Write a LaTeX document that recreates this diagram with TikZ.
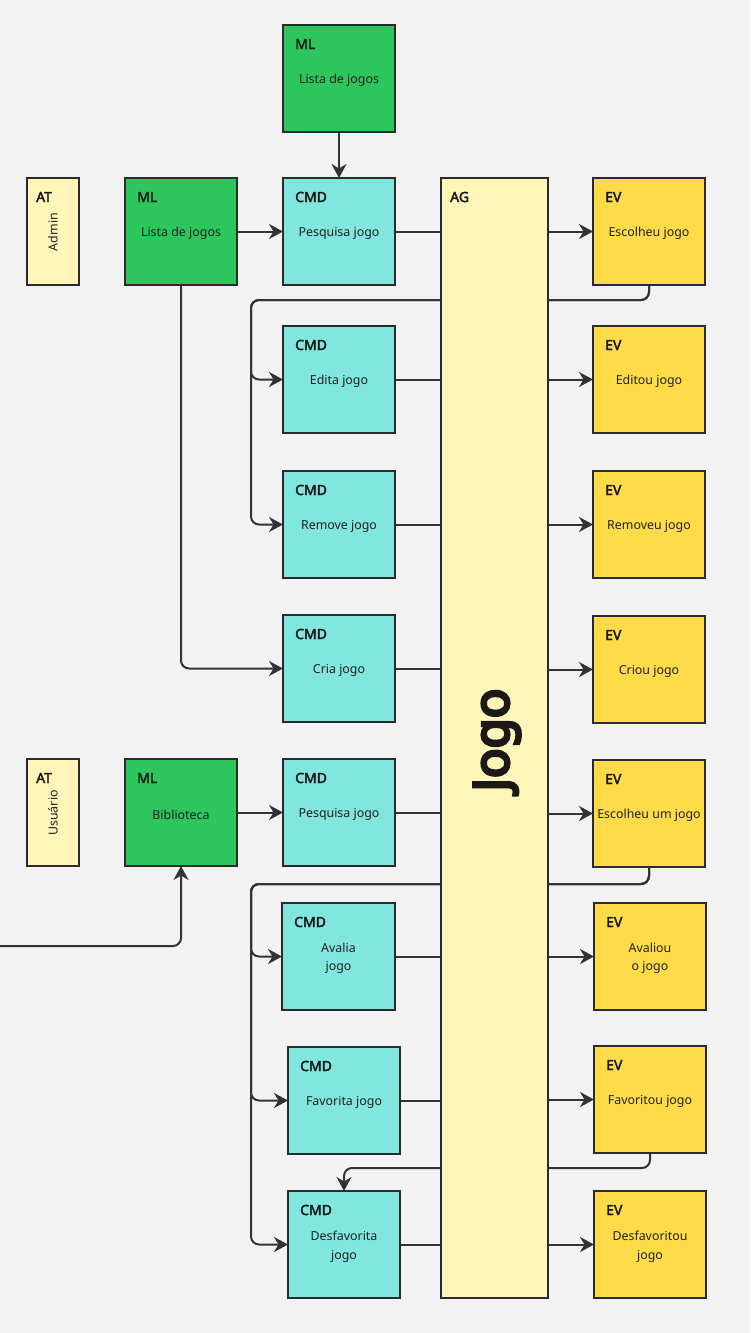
\documentclass[tikz,border=0pt]{standalone}
\usepackage{fontspec}
\setmainfont{Noto Sans}[BoldFont={Noto Sans}, BoldFeatures={FakeBold=2.6}]
\newfontfamily\jogofont{Noto Sans}[FakeBold=6]
\usetikzlibrary{calc,arrows.meta}
\pgfdeclarelayer{bg}
\pgfsetlayers{bg,main}
\definecolor{pagebg}{HTML}{F2F2F2}
\definecolor{mlgreen}{HTML}{2DC65C}
\definecolor{cmdcyan}{HTML}{80E6DE}
\definecolor{atyellow}{HTML}{FFF5B8}
\definecolor{evyellow}{HTML}{FFDB4A}
\definecolor{linec}{HTML}{333333}
\definecolor{borderc}{HTML}{2B2B2B}
\definecolor{txtc}{HTML}{222222}
\tikzset{
  card/.style={draw=borderc, line width=2pt, inner sep=0pt, outer sep=0pt, rectangle},
  ttl/.style={font=\fontsize{14}{17}\selectfont\bfseries, text=black!90, inner sep=0pt},
  bdy/.style={font=\fontsize{12.4}{18.5}\selectfont, text=txtc, align=center, inner sep=0pt},
  ln/.style={draw=linec, line width=2pt},
  arr/.style={ln, -{Stealth[length=14pt,width=15pt,inset=4.5pt]}},
  bus/.style={arr, rounded corners=8pt},
}
\newcommand\sticky[8]{%
  \node[card, fill=#2, minimum width=#5pt, minimum height=#6pt, anchor=north west] (#1) at (#3,#4) {};
  \node[ttl, anchor=base west] (#1t) at ($(#1.north west)+(12,24)$) {#7};
  \node[bdy] (#1b) at ($(#1.north)+(0,55.5)$) {#8};
}
\begin{document}
\begin{tikzpicture}[x=1pt,y=-1pt]
\useasboundingbox (0,0) rectangle (750,1333);
\begin{pgfonlayer}{bg}
\fill[pagebg] (0,0) rectangle (750,1333);
\end{pgfonlayer}

% aggregate
\node[card, fill=atyellow, minimum width=107pt, minimum height=1120pt, anchor=north west] (ag) at (441,178) {};
\node[ttl, anchor=base west] (agt) at ($(ag.north west)+(9,24)$) {AG};
\node[font=\jogofont\fontsize{49}{49}\selectfont, text=black!90, rotate=90, inner sep=0pt] (agb) at (497,740) {Jogo};

% actors
\node[card, fill=atyellow, minimum width=52pt, minimum height=107pt, anchor=north west] (at1) at (27,178) {};
\node[ttl, anchor=base west] (at1t) at ($(at1.north west)+(9,24)$) {AT};
\node[bdy, rotate=90] (at1b) at ($(at1.north)+(0,54)$) {Admin};
\node[card, fill=atyellow, minimum width=52pt, minimum height=107pt, anchor=north west] (at5) at (27,759) {};
\node[ttl, anchor=base west] (at5t) at ($(at5.north west)+(9,24)$) {AT};
\node[bdy, rotate=90] (at5b) at ($(at5.north)+(0,54)$) {Usuário};

% read models
\sticky{mltop}{mlgreen}{283}{25}{112}{107}{ML}{Lista de jogos}
\sticky{ml1}{mlgreen}{125}{178}{112}{107}{ML}{Lista de jogos}
\sticky{ml5}{mlgreen}{125}{759}{112}{107}{ML}{Biblioteca}

% commands
\sticky{cmd1}{cmdcyan}{283}{178}{112}{107}{CMD}{Pesquisa jogo}
\sticky{cmd2}{cmdcyan}{283}{326}{112}{107}{CMD}{Edita jogo}
\sticky{cmd3}{cmdcyan}{283}{471}{112}{107}{CMD}{Remove jogo}
\sticky{cmd4}{cmdcyan}{283}{615}{112}{107}{CMD}{Cria jogo}
\sticky{cmd5}{cmdcyan}{283}{759}{112}{107}{CMD}{Pesquisa jogo}
\sticky{cmd6}{cmdcyan}{282}{903}{113}{107}{CMD}{Avalia\\jogo}
\sticky{cmd7}{cmdcyan}{288}{1047}{112}{107}{CMD}{Favorita jogo}
\sticky{cmd8}{cmdcyan}{288}{1191}{112}{107}{CMD}{Desfavorita\\jogo}

% events
\sticky{ev1}{evyellow}{593}{178}{112}{107}{EV}{Escolheu jogo}
\sticky{ev2}{evyellow}{593}{326}{112}{107}{EV}{Editou jogo}
\sticky{ev3}{evyellow}{593}{471}{112}{107}{EV}{Removeu jogo}
\sticky{ev4}{evyellow}{593}{616}{112}{107}{EV}{Criou jogo}
\sticky{ev5}{evyellow}{593}{760}{112}{107}{EV}{Escolheu um jogo}
\sticky{ev6}{evyellow}{594}{903}{112}{107}{EV}{Avaliou\\o jogo}
\sticky{ev7}{evyellow}{594}{1046}{112}{107}{EV}{Favoritou jogo}
\sticky{ev8}{evyellow}{594}{1191}{112}{107}{EV}{Desfavoritou\\jogo}

% bus coordinates
\coordinate (busA) at (251,300);
\coordinate (busB) at (251,884);
\coordinate (busC) at (344,1168);
\coordinate (inA) at (0,946);

\begin{pgfonlayer}{bg}
% read model feeds
\draw[arr] (mltop.south) -- (cmd1.north);
\draw[arr] (ml1.east) -- (cmd1.west);
\draw[arr] (ml5.east) -- (cmd5.west);
\draw[bus] (ml1.south) |- (cmd4.west);
\draw[bus] (inA) -| (ml5.south);
% commands into aggregate
\foreach \i in {1,...,8} {
  \draw[ln] (cmd\i.east) -- (cmd\i.east -| ag.west);
  \draw[arr] (ev\i.west -| ag.east) -- (ev\i.west);
}
% event loops back to commands
\draw[bus] (ev1.south) |- (busA) |- (cmd2.west);
\draw[bus] (ev1.south) |- (busA) |- (cmd3.west);
\draw[bus] (ev5.south) |- (busB) |- (cmd6.west);
\draw[bus] (ev5.south) |- (busB) |- (cmd7.west);
\draw[bus] (ev5.south) |- (busB) |- (cmd8.west);
\draw[bus] (ev7.south) |- (busC) -- (cmd8.north);
\end{pgfonlayer}
\end{tikzpicture}
\end{document}
